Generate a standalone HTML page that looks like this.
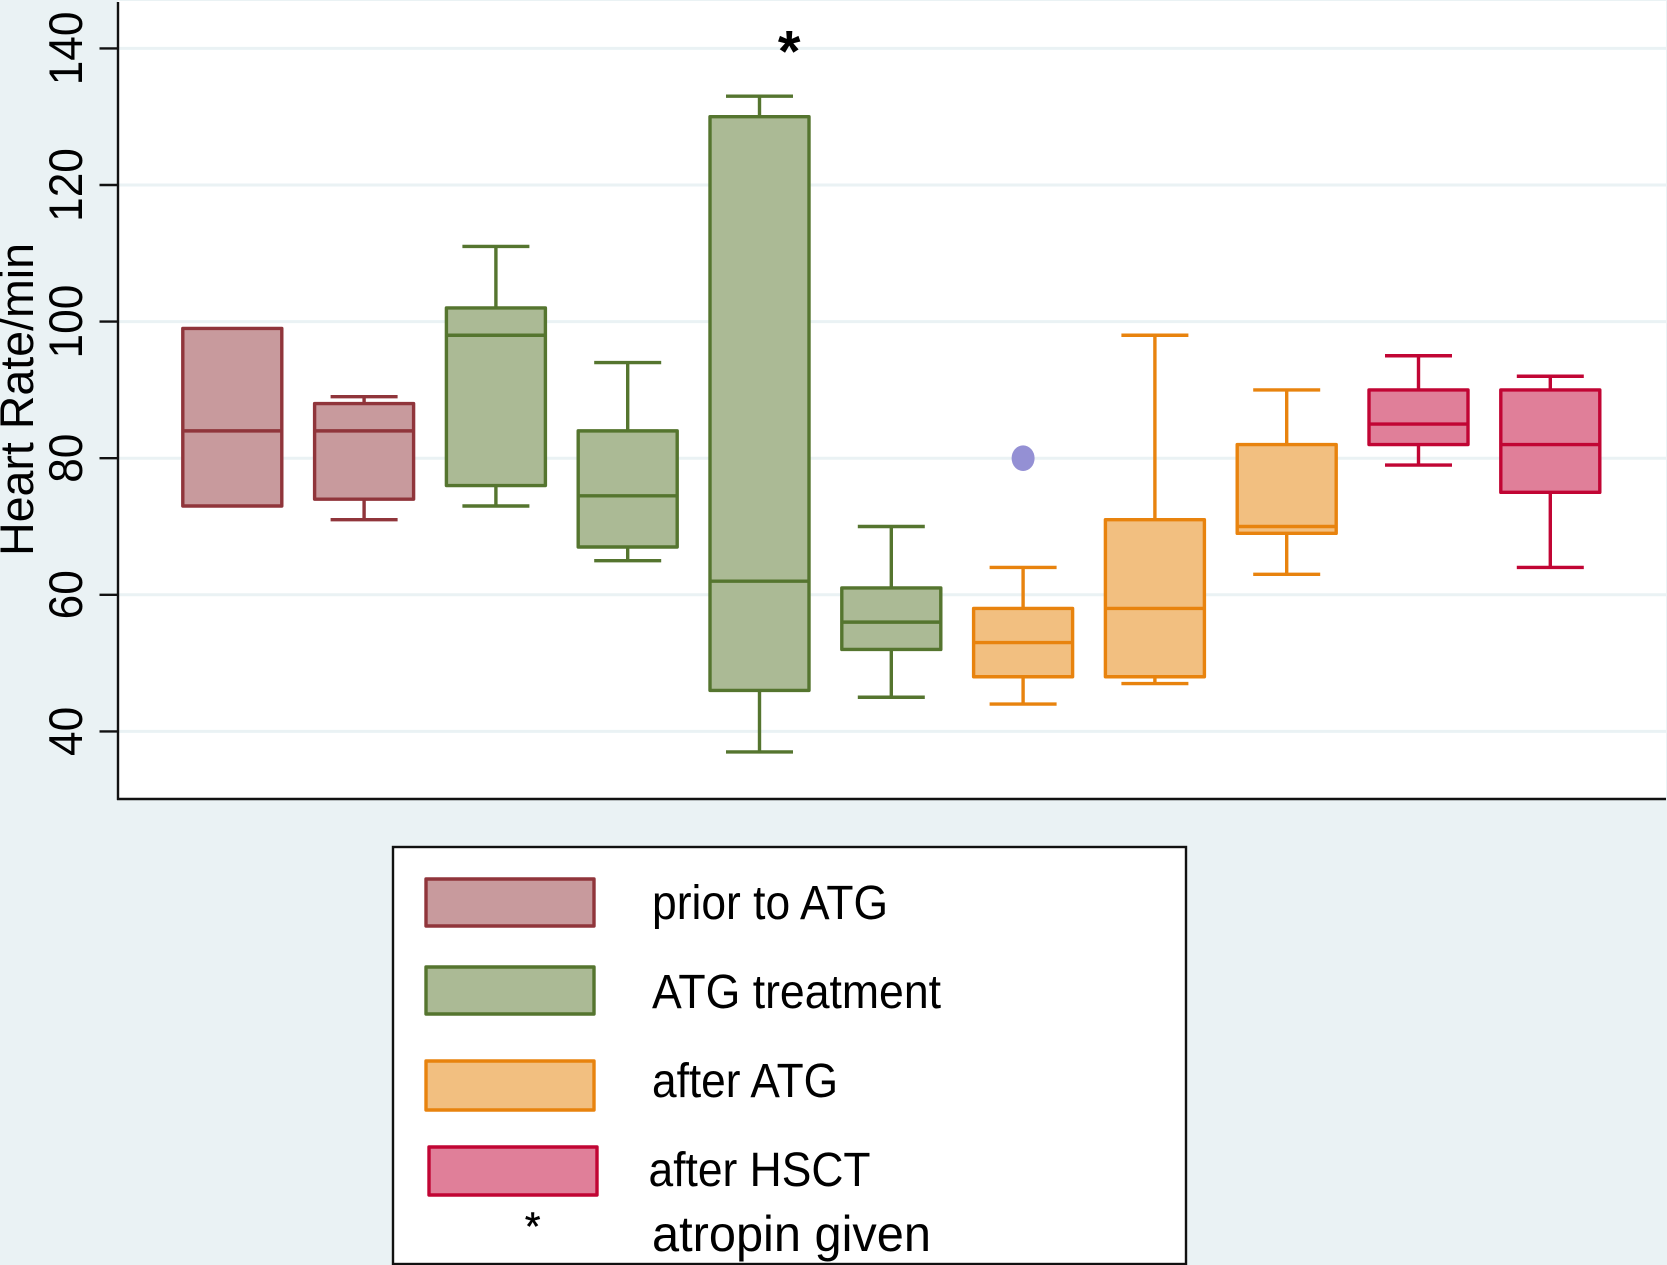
<!DOCTYPE html>
<html lang="en">
<head>
<meta charset="utf-8">
<title>Heart rate box plot</title>
<style>
html,body{margin:0;padding:0;background:#eaf2f4;}
body{width:1667px;height:1265px;overflow:hidden;}
svg{display:block;font-family:"Liberation Sans",sans-serif;}
</style>
</head>
<body>
<svg id="chart" xmlns="http://www.w3.org/2000/svg" width="1667" height="1265" viewBox="0 0 1667 1265">
  <rect x="0" y="0" width="1667" height="1265" fill="#eaf2f4"/>
  <rect x="118" y="1" width="1548" height="798" fill="#ffffff"/>
  <g id="grid"></g>
  <g id="marks"></g>
  <line x1="118" y1="2" x2="118" y2="800" stroke="#111" stroke-width="2.4"/>
  <line x1="117" y1="799" x2="1666" y2="799" stroke="#111" stroke-width="2.4"/>
  <g id="ticks"></g>
  <text transform="translate(33,556) rotate(-90)" font-size="47" fill="#000" textLength="313" lengthAdjust="spacingAndGlyphs">Heart Rate/min</text>
  <text id="atropinStar" text-anchor="middle" font-size="58" font-weight="bold" fill="#000">*</text>

  <g>
    <rect x="393" y="847" width="793" height="417" fill="#ffffff" stroke="#111" stroke-width="2.4"/>
    <rect x="426" y="879" width="168" height="47" fill="#c89a9d" stroke="#90353b" stroke-width="3.4" stroke-linejoin="round"/>
    <text x="652" y="919" font-size="48" fill="#000" textLength="236" lengthAdjust="spacingAndGlyphs">prior to ATG</text>
    <rect x="426" y="967" width="168" height="47" fill="#abba95" stroke="#55752f" stroke-width="3.4" stroke-linejoin="round"/>
    <text x="652" y="1008" font-size="48" fill="#000" textLength="289" lengthAdjust="spacingAndGlyphs">ATG treatment</text>
    <rect x="426" y="1061" width="168" height="49" fill="#f2bf80" stroke="#e8830e" stroke-width="3.4" stroke-linejoin="round"/>
    <text x="652" y="1097" font-size="48" fill="#000" textLength="186" lengthAdjust="spacingAndGlyphs">after ATG</text>
    <rect x="429" y="1147" width="168" height="48" fill="#e07f99" stroke="#c10534" stroke-width="3.4" stroke-linejoin="round"/>
    <text x="648.5" y="1186" font-size="48" fill="#000" textLength="222" lengthAdjust="spacingAndGlyphs">after HSCT</text>
    <text x="532.7" y="1240" text-anchor="middle" font-size="40" fill="#000" stroke="#000" stroke-width="0.5">*</text>
    <text x="652" y="1251" font-size="50" fill="#000" textLength="279" lengthAdjust="spacingAndGlyphs">atropin given</text>
  </g>
</svg>
<script>
const yTicks = [40, 60, 80, 100, 120, 140];
const tickLabels = ["40", "60", "80", "100", "120", "140"];
const groups = ["prior", "prior", "atg", "atg", "atg", "atg", "after", "after", "after", "hsct", "hsct"];
const whiskerLow = [73, 71, 73, 65, 37, 45, 44, 47, 63, 79, 64];
const q1 = [73, 74, 76, 67, 46, 52, 48, 48, 69, 82, 75];
const median = [84, 84, 98, 74.5, 62, 56, 53, 58, 70, 85, 82];
const q3 = [99, 88, 102, 84, 130, 61, 58, 71, 82, 90, 90];
const whiskerHigh = [99, 89, 111, 94, 133, 70, 64, 98, 90, 95, 92];
const outlierCategory = [6];
const outlierValue = [80];
const atropinCategory = 4.225;
const atropinValue = 136.6;

const strokeColor = {prior: "#90353b", atg: "#55752f", after: "#e8830e", hsct: "#c10534"};
const fillColor = {prior: "#c89a9d", atg: "#abba95", after: "#f2bf80", hsct: "#e07f99"};

const NS = "http://www.w3.org/2000/svg";
function yScale(v) { return 731.4 - (v - 40) * 6.83; }
function xScale(i) { return 232.3 + i * 131.8; }
function make(tag, attrs, parent) {
  const el = document.createElementNS(NS, tag);
  for (const k in attrs) el.setAttribute(k, attrs[k]);
  parent.appendChild(el);
  return el;
}

const gridG = document.getElementById("grid");
const ticksG = document.getElementById("ticks");
const marksG = document.getElementById("marks");

yTicks.forEach(function (t, i) {
  const y = yScale(t);
  const g = make("line", {x1: 119, x2: 1666, y1: y, y2: y, stroke: "#eaf2f4", "stroke-width": 3}, gridG);
  
  
  const tk = make("line", {x1: 99.5, x2: 118, y1: y, y2: y, stroke: "#111", "stroke-width": 2.4}, ticksG);
  
  
  const lb = make("text", {transform: "translate(82," + y + ") rotate(-90)", "text-anchor": "middle", "font-size": 47, fill: "#000", textLength: tickLabels[i].length * 24.6, lengthAdjust: "spacingAndGlyphs"}, ticksG);
  
  
  lb.textContent = tickLabels[i];
});

const boxW = 99, capW = 67;
groups.forEach(function (grp, i) {
  const cx = xScale(i);
  const col = strokeColor[grp];
  const g = make("g", {stroke: col, "stroke-width": 3.4, fill: "none"}, marksG);
  
  
  make("line", {x1: cx, x2: cx, y1: yScale(whiskerHigh[i]), y2: yScale(q3[i])}, g);
  make("line", {x1: cx, x2: cx, y1: yScale(q1[i]), y2: yScale(whiskerLow[i])}, g);
  if (whiskerHigh[i] !== q3[i]) make("line", {x1: cx - capW / 2, x2: cx + capW / 2, y1: yScale(whiskerHigh[i]), y2: yScale(whiskerHigh[i])}, g);
  if (whiskerLow[i] !== q1[i]) make("line", {x1: cx - capW / 2, x2: cx + capW / 2, y1: yScale(whiskerLow[i]), y2: yScale(whiskerLow[i])}, g);
  make("rect", {x: cx - boxW / 2, y: yScale(q3[i]), width: boxW, height: yScale(q1[i]) - yScale(q3[i]), fill: fillColor[grp], "stroke-linejoin": "round"}, g);
  make("line", {x1: cx - boxW / 2, x2: cx + boxW / 2, y1: yScale(median[i]), y2: yScale(median[i])}, g);
});

outlierCategory.forEach(function (c, i) {
  const o = make("ellipse", {cx: xScale(c), cy: yScale(outlierValue[i]), rx: 11.5, ry: 12.8, fill: "#9490d4"}, marksG);
  
  
});

const star = document.getElementById("atropinStar");
star.setAttribute("x", xScale(atropinCategory));
star.setAttribute("y", yScale(atropinValue));
</script>
</body>
</html>
